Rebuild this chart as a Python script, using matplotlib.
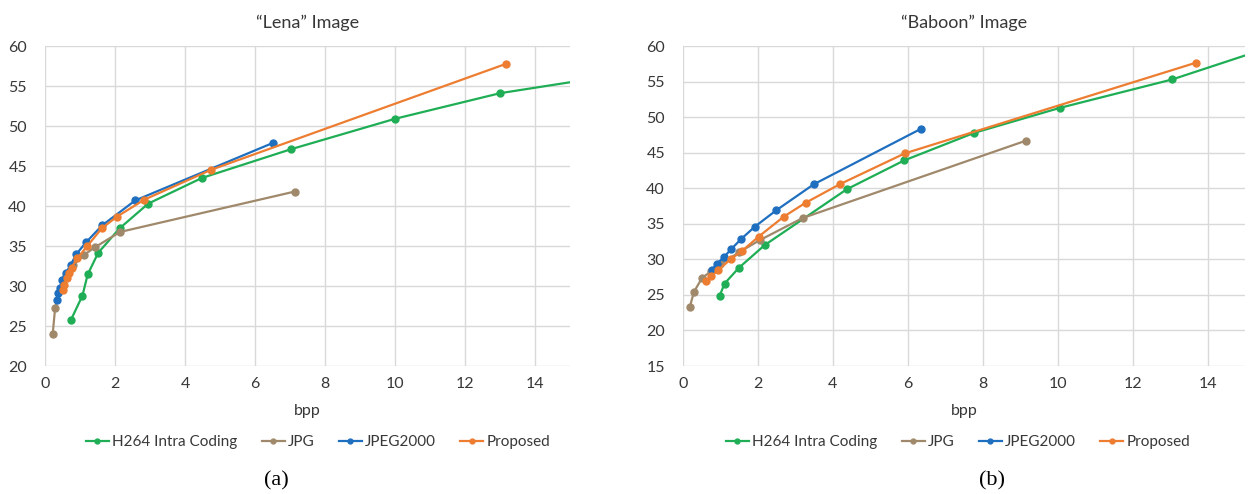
import matplotlib
matplotlib.use('Agg')
import matplotlib.pyplot as plt

plt.rcParams['font.family'] = ['Lato', 'DejaVu Sans']

GREEN = '#1fae55'
TAN = '#a0896b'
BLUE = '#1f6fc0'
ORANGE = '#ed7d31'
TEXT = '#383838'
GRID = '#d9d9d9'

SERIES = ['H264 Intra Coding', 'JPG', 'JPEG2000', 'Proposed']
COLORS = [GREEN, TAN, BLUE, ORANGE]

# "Lena" image
lena_h264_bpp = [0.74, 1.07, 1.22, 1.52, 2.13, 2.95, 4.48, 7.03, 10.0, 13.0, 16.0]
lena_h264_psnr = [25.75, 28.8, 31.45, 34.15, 37.2, 40.3, 43.5, 47.1, 50.9, 54.1, 56.15]
lena_jpg_bpp = [0.22, 0.29, 0.45, 0.6, 0.8, 1.12, 1.43, 2.14, 7.13]
lena_jpg_psnr = [24.0, 27.3, 29.8, 31.2, 32.6, 33.9, 34.85, 36.75, 41.8]
lena_j2k_bpp = [0.35, 0.38, 0.43, 0.49, 0.59, 0.73, 0.89, 1.17, 1.64, 2.58, 6.52]
lena_j2k_psnr = [28.3, 29.1, 29.8, 30.75, 31.6, 32.6, 33.95, 35.45, 37.6, 40.7, 47.9]
lena_prop_bpp = [0.52, 0.55, 0.62, 0.69, 0.76, 0.92, 1.21, 1.62, 2.05, 2.84, 4.73, 13.16]
lena_prop_psnr = [29.5, 30.1, 30.95, 31.65, 32.3, 33.45, 35.0, 37.2, 38.65, 40.8, 44.5, 57.75]

# "Baboon" image
baboon_h264_bpp = [0.98, 1.11, 1.49, 2.18, 4.37, 5.9, 7.78, 10.06, 13.06, 16.0]
baboon_h264_psnr = [24.9, 26.6, 28.8, 32.0, 39.85, 43.9, 47.8, 51.3, 55.3, 60.4]
baboon_jpg_bpp = [0.18, 0.29, 0.51, 0.75, 1.0, 1.5, 2.05, 3.19, 9.16]
baboon_jpg_psnr = [23.25, 25.4, 27.4, 28.3, 29.3, 31.0, 32.7, 35.8, 46.7]
baboon_j2k_bpp = [0.77, 0.91, 1.09, 1.29, 1.56, 1.92, 2.49, 3.49, 6.35]
baboon_j2k_psnr = [28.5, 29.4, 30.3, 31.45, 32.9, 34.6, 36.9, 40.55, 48.35]
baboon_prop_bpp = [0.62, 0.76, 0.94, 1.27, 1.58, 2.02, 2.69, 3.27, 4.2, 5.92, 13.69]
baboon_prop_psnr = [26.95, 27.6, 28.5, 30.0, 31.2, 33.2, 36.0, 37.95, 40.6, 44.9, 57.65]

lena = [(lena_h264_bpp, lena_h264_psnr), (lena_jpg_bpp, lena_jpg_psnr),
        (lena_j2k_bpp, lena_j2k_psnr), (lena_prop_bpp, lena_prop_psnr)]
baboon = [(baboon_h264_bpp, baboon_h264_psnr), (baboon_jpg_bpp, baboon_jpg_psnr),
          (baboon_j2k_bpp, baboon_j2k_psnr), (baboon_prop_bpp, baboon_prop_psnr)]

fig = plt.figure(figsize=(12.48, 4.94), dpi=100)
W, H = 1248, 494

panels = [
    dict(data=lena, title='\u201cLena\u201d Image', box=(45, 570), ymin=20, yticks=range(20, 61, 5),
         leg_x=318, cap_x=276, cap='(a)'),
    dict(data=baboon, title='\u201cBaboon\u201d Image', box=(683, 1245), ymin=15, yticks=range(15, 61, 5),
         leg_x=958, cap_x=992, cap='(b)'),
]

for p in panels:
    x0, x1 = p['box']
    ax = fig.add_axes([x0 / W, 1 - 366 / H, (x1 - x0) / W, 320 / H])
    for (bpp, psnr), name, col in zip(p['data'], SERIES, COLORS):
        ax.plot(bpp, psnr, color=col, lw=1.6, marker='o', ms=5, label=name)
    ax.set_xlim(0, 15)
    ax.set_ylim(p['ymin'], 60)
    ax.set_xticks(range(0, 15, 2))
    ax.set_yticks(list(p['yticks']))
    ax.grid(True, color=GRID, lw=1)
    ax.set_axisbelow(True)
    for s in ax.spines.values():
        s.set_visible(False)
    ax.tick_params(length=0, labelsize=11.5, colors=TEXT, pad=8)
    ax.tick_params(axis='y', pad=13)
    ax.set_title(p['title'], fontsize=13, color=TEXT, pad=13)
    ax.set_xlabel('bpp', fontsize=11.5, color=TEXT, labelpad=9)
    fig.legend(*ax.get_legend_handles_labels(), loc='center', ncol=4, frameon=False,
               bbox_to_anchor=(p['leg_x'] / W, 1 - 442 / H), fontsize=11,
               handlelength=1.5, handletextpad=0.2, columnspacing=1.6, labelcolor=TEXT,
               markerscale=0.7)
    fig.text(p['cap_x'] / W, 1 - 481 / H, p['cap'], family='Liberation Serif', fontsize=16,
             ha='center', va='center', color='black')

fig.savefig('out.png', dpi=100)
